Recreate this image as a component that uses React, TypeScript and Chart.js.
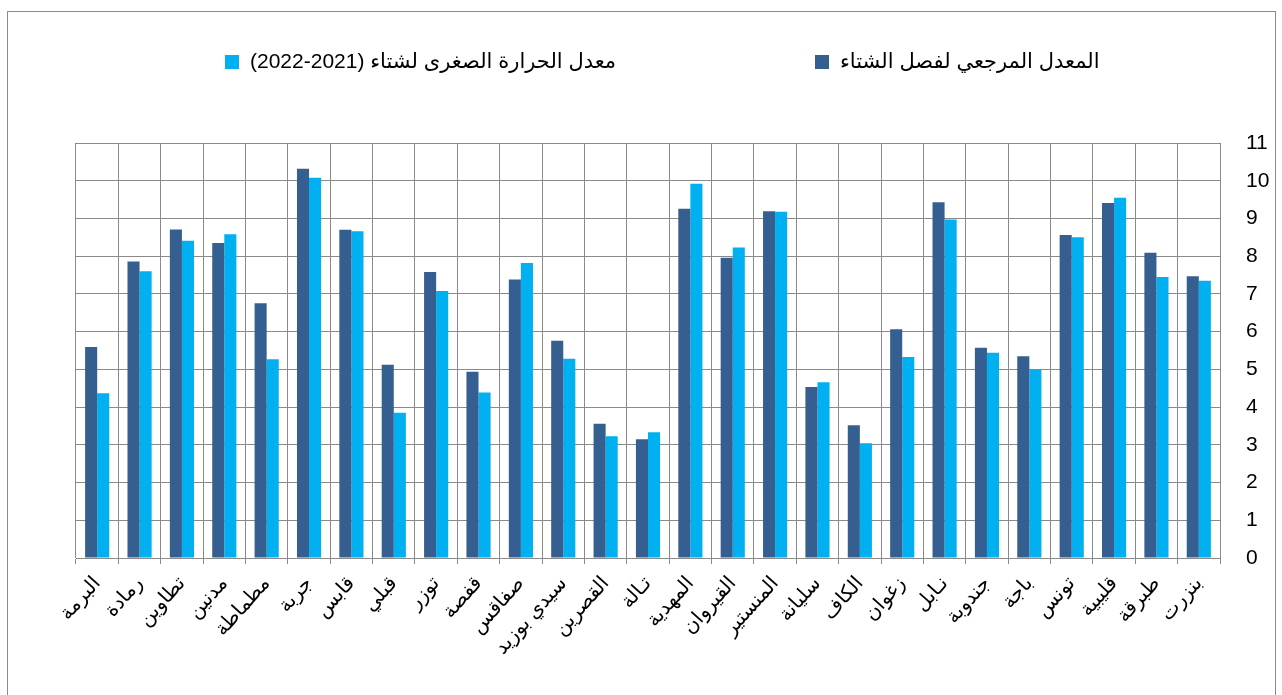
import React, { useEffect, useRef } from "react";
import { Chart, registerables } from "chart.js";

Chart.register(...registerables);

// Stations, in right-to-left order (first = rightmost)
const categories: string[] = [
  "بنزرت", "طبرقة", "قليبية", "تونس", "باجة", "جندوبة", "نـابل", "زغوان", "الكاف",
  "سليانة", "المنستير", "القيروان", "المهدية", "تـالة", "القصرين", "سيدي بوزيد",
  "صفاقس", "قفصة", "توزر", "قبلي", "قابس", "جربة", "مطماطة", "مدنين", "تطاوين",
  "رمادة", "البرمة",
];

const referenceWinter: number[] = [
  7.47, 8.09, 9.41, 8.56, 5.35, 5.57, 9.43, 6.06, 3.52,
  4.53, 9.19, 7.96, 9.26, 3.15, 3.56, 5.76,
  7.38, 4.94, 7.58, 5.12, 8.70, 10.32, 6.75, 8.35, 8.71,
  7.86, 5.59,
];

const winter2021_2022: number[] = [
  7.35, 7.45, 9.55, 8.50, 5.00, 5.44, 8.97, 5.33, 3.04,
  4.66, 9.18, 8.23, 9.92, 3.33, 3.23, 5.28,
  7.82, 4.39, 7.08, 3.85, 8.66, 10.08, 5.27, 8.58, 8.41,
  7.60, 4.37,
];

const seriesLabels: string[] = [
  "المعدل المرجعي لفصل الشتاء",
  "معدل الحرارة الصغرى لشتاء (2022-2021)",
];

const yTicks: number[] = [0, 1, 2, 3, 4, 5, 6, 7, 8, 9, 10, 11];

const COLORS = ["#365F91", "#00B0F0"];
const GRID = "#8a8a8a";
const FONT = "'Liberation Sans', 'DejaVu Sans', Arial, sans-serif";
const LEGEND_BOX_X = [815, 225];

const framePlugin = {
  id: "frameAndLegend",
  beforeDraw(chart: any) {
    const ctx = chart.ctx;
    ctx.save();
    ctx.fillStyle = "#ffffff";
    ctx.fillRect(0, 0, chart.width, chart.height);
    ctx.strokeStyle = "#8c8c8c";
    ctx.lineWidth = 1;
    ctx.strokeRect(7.5, 11.5, 1268, 720);
    ctx.restore();
  },
  afterDraw(chart: any) {
    const ctx = chart.ctx;
    ctx.save();
    chart.data.datasets.forEach((ds: any, i: number) => {
      const bx = LEGEND_BOX_X[i];
      const by = 55;
      const ty = by + 7;
      ctx.fillStyle = ds.backgroundColor;
      ctx.fillRect(bx, by, 14, 14);
      ctx.fillStyle = "#000";
      ctx.font = `21px ${FONT}`;
      ctx.textBaseline = "middle";
      ctx.textAlign = "left";
      let x = bx + 25;
      const label: string = ds.label;
      const m = label.match(/^(.*?)\s*(\([^)]*\))$/);
      if (m) {
        // parenthetical part drawn left-to-right, to the left of the Arabic text
        (ctx as any).direction = "ltr";
        ctx.fillText(m[2], x, ty);
        x += ctx.measureText(m[2] + " ").width;
        (ctx as any).direction = "rtl";
        ctx.textAlign = "left";
        ctx.fillText(m[1], x, ty);
      } else {
        (ctx as any).direction = "rtl";
        ctx.fillText(label, x, ty);
      }
    });
    ctx.restore();
  },
};

export default function App() {
  const ref = useRef<HTMLCanvasElement | null>(null);

  useEffect(() => {
    if (!ref.current) return;
    const chart = new Chart(ref.current, {
      type: "bar",
      data: {
        labels: categories,
        datasets: [
          { label: seriesLabels[0], data: referenceWinter, backgroundColor: COLORS[0], borderWidth: 0 },
          { label: seriesLabels[1], data: winter2021_2022, backgroundColor: COLORS[1], borderWidth: 0 },
        ],
      },
      options: {
        animation: false,
        responsive: true,
        maintainAspectRatio: false,
        datasets: { bar: { categoryPercentage: 0.57, barPercentage: 1 } },
        layout: { padding: { top: 143, left: 76, right: 0, bottom: 0 } },
        plugins: { legend: { display: false }, tooltip: { enabled: false } },
        scales: {
          x: {
            reverse: true,
            grid: { color: GRID, lineWidth: 1, offset: true, tickLength: 6, drawTicks: true },
            border: { color: GRID, width: 1 },
            ticks: {
              autoSkip: false,
              maxRotation: 48,
              minRotation: 48,
              color: "#000",
              font: { size: 20, family: FONT },
              padding: 8,
            },
            afterFit: (scale: any) => { scale.height = 137; },
          },
          y: {
            position: "right",
            min: yTicks[0],
            max: yTicks[yTicks.length - 1],
            grid: { color: GRID, lineWidth: 1, drawTicks: false },
            border: { color: GRID, width: 1 },
            ticks: {
              stepSize: 1,
              color: "#000",
              font: { size: 21, family: FONT },
              padding: 26,
            },
            afterFit: (scale: any) => { scale.width = 62; },
          },
        },
      },
      plugins: [framePlugin],
    });
    return () => chart.destroy();
  }, []);

  return (
    <div style={{ position: "fixed", left: 0, top: 0, width: 1282, height: 695, background: "#fff" }}>
      <canvas ref={ref} />
    </div>
  );
}
